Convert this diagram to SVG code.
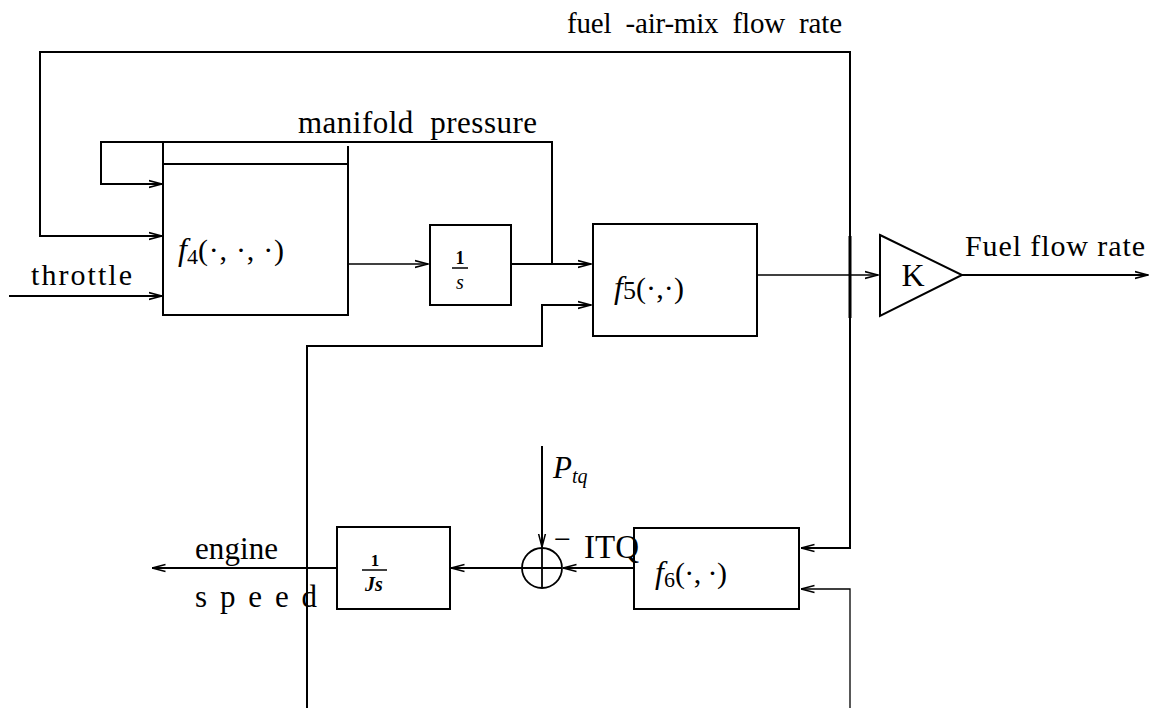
<svg xmlns="http://www.w3.org/2000/svg" width="1150" height="708" viewBox="0 0 1150 708">
<style>
.ln{fill:none;stroke:#000;stroke-width:2}
.th{fill:none;stroke:#000;stroke-width:1.3}
.bx{fill:none;stroke:#000;stroke-width:2}
.t{font-family:"Liberation Serif","Times New Roman",serif;fill:#000}
.i{font-style:italic}
</style>
<defs>
<marker id="ar" viewBox="0 0 14 10" refX="13.5" refY="5" markerWidth="14" markerHeight="10" markerUnits="userSpaceOnUse" orient="auto">
<path d="M0,1.5 L13.5,5 L0,8.5" fill="none" stroke="#000" stroke-width="1.5"/>
</marker>
</defs>
<rect width="1150" height="708" fill="#fff"/>
<g id="connectors">
<path class="ln" d="M850,275 L850,52 L40,52 L40,236 L162,236" marker-end="url(#ar)"/>
<path class="ln" d="M850,275 L850,548 L801,548" marker-end="url(#ar)"/>
<line x1="850" y1="236" x2="850" y2="318" stroke="#000" stroke-width="3"/>
<path class="ln" d="M552,264 L552,142 L101,142 L101,184 L162,184" marker-end="url(#ar)"/>
<path class="ln" d="M9,296 L162,296" marker-end="url(#ar)"/>
<path class="th" d="M348,264 L428,264" marker-end="url(#ar)"/>
<path class="ln" d="M511,264 L591,264" marker-end="url(#ar)"/>
<path class="ln" d="M307,708 L307,346 L542,346 L542,305 L591,305" marker-end="url(#ar)"/>
<path class="th" d="M757,275 L878,275" marker-end="url(#ar)"/>
<path class="ln" d="M962,275 L1148,275" marker-end="url(#ar)"/>
<path class="ln" d="M542,446 L542,547" marker-end="url(#ar)"/>
<path class="ln" d="M634,568 L563,568" marker-end="url(#ar)"/>
<path class="ln" d="M522,568 L451,568" marker-end="url(#ar)"/>
<path class="ln" d="M337,568 L152,568" marker-end="url(#ar)"/>
<path class="th" d="M850,708 L850,589 L801,589" stroke="#444" marker-end="url(#ar)"/>
</g>
<g id="f4">
<path class="bx" d="M163,142 L163,315 L348,315 L348,146 M163,164 L348,164"/>
<text class="t" x="178" y="260" font-size="30"><tspan class="i" font-size="32">f</tspan><tspan font-size="22" dy="4">4</tspan><tspan dy="-4" textLength="86" lengthAdjust="spacing">(·,  ·,  ·)</tspan></text>
</g>
<g id="integrator">
<rect class="bx" x="430" y="225" width="81" height="80"/>
<text class="t" x="460" y="264" font-size="18" font-weight="bold" text-anchor="middle">1</text>
<line x1="452" y1="268" x2="468" y2="268" stroke="#000" stroke-width="1.5"/>
<text class="t i" x="460" y="289" font-size="20" text-anchor="middle">s</text>
</g>
<g id="f5">
<rect class="bx" x="593" y="224" width="164" height="112"/>
<text class="t" x="614" y="298" font-size="30"><tspan class="i" font-size="32">f</tspan><tspan font-size="26" dy="1">5</tspan><tspan dy="-1" textLength="48" lengthAdjust="spacing">(·,·)</tspan></text>
</g>
<g id="gain">
<path class="bx" d="M880,235 L962,275 L880,316 Z" stroke-width="1.5"/>
<text class="t" x="913" y="286" font-size="32" text-anchor="middle">K</text>
</g>
<g id="f6">
<rect class="bx" x="634" y="528" width="165" height="81"/>
<text class="t" x="655" y="583" font-size="30"><tspan class="i" font-size="32">f</tspan><tspan font-size="22" dy="4">6</tspan><tspan dy="-4" textLength="52" lengthAdjust="spacing">(·, ·)</tspan></text>
</g>
<g id="sum">
<circle cx="542" cy="568" r="20" fill="none" stroke="#000" stroke-width="1.8"/>
<path d="M542,548 L542,588 M522,568 L562,568" stroke="#000" stroke-width="1.8"/>
</g>
<g id="inertia">
<rect class="bx" x="337" y="527" width="113" height="82"/>
<text class="t" x="375" y="566" font-size="17" font-weight="bold" text-anchor="middle">1</text>
<line x1="362" y1="570" x2="387" y2="570" stroke="#000" stroke-width="1.5"/>
<text class="t i" x="374" y="591" font-size="20" font-weight="bold" text-anchor="middle">Js</text>
</g>
<g id="labels">
<text class="t" x="567" y="33" font-size="29" textLength="275" lengthAdjust="spacing" xml:space="preserve">fuel  -air-mix  flow  rate</text>
<text class="t" x="298" y="133" font-size="31" textLength="239" lengthAdjust="spacing" xml:space="preserve">manifold  pressure</text>
<text class="t" x="31" y="285" font-size="30" textLength="101" lengthAdjust="spacing">throttle</text>
<text class="t" x="965" y="256" font-size="30" textLength="180" lengthAdjust="spacing">Fuel flow rate</text>
<text class="t" x="553" y="478" font-size="31"><tspan class="i">P</tspan><tspan class="i" font-size="20" dy="5">tq</tspan></text>
<text class="t" x="554" y="549" font-size="30">−</text>
<text class="t" x="584" y="558" font-size="33">ITQ</text>
<text class="t" x="195" y="559" font-size="31" textLength="83" lengthAdjust="spacing">engine</text>
<text class="t" x="195" y="607" font-size="31" textLength="122" lengthAdjust="spacing">s p e e d</text>
</g>
</svg>
